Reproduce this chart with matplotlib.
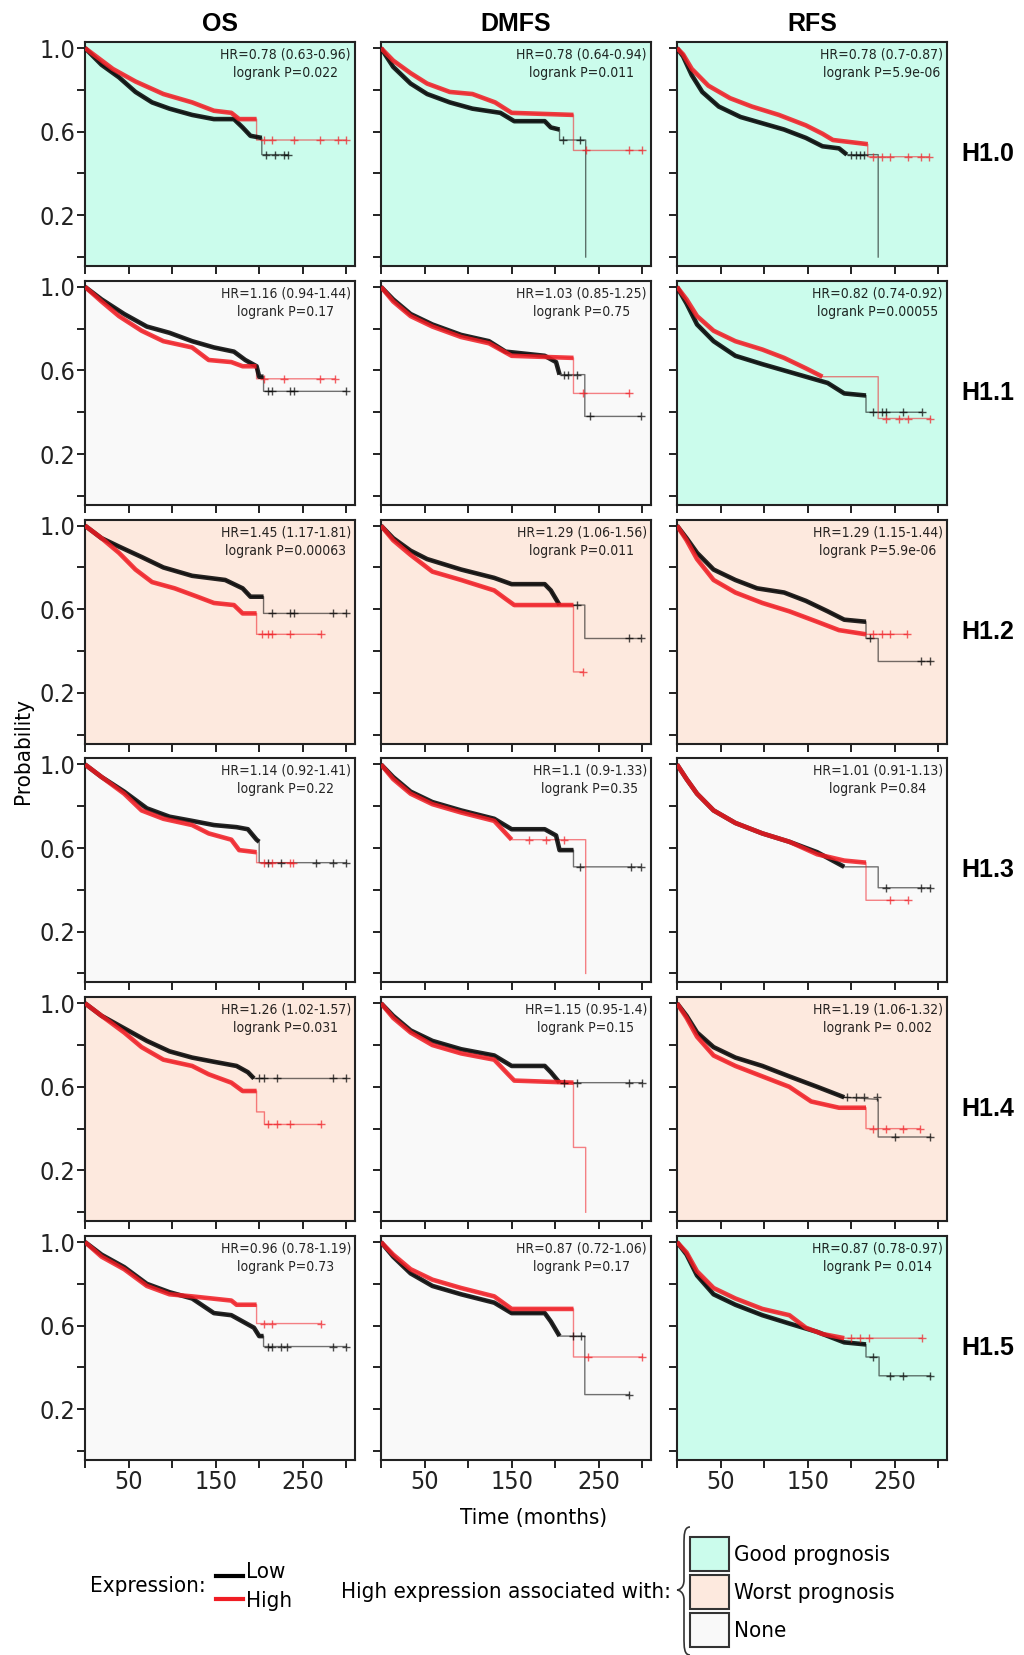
import matplotlib
matplotlib.use("Agg")
import matplotlib.pyplot as plt
from matplotlib.patches import Rectangle, PathPatch
from matplotlib.path import Path

NARROW = dict(family="DejaVu Sans", fontstretch="condensed")
BOLD = dict(family=["Liberation Sans", "DejaVu Sans"], weight="bold")

# ---- data: (months, probability) knots ----
h10_os_low = [(0, 1.0), (19, 0.92), (39, 0.86), (58, 0.79), (77, 0.74), (97, 0.71), (123, 0.68), (148, 0.66),
              (171, 0.66), (181, 0.62), (190, 0.58), (203, 0.57), (203, 0.49), (233, 0.49)]
h10_os_high = [(0, 1.0), (32, 0.90), (58, 0.84), (90, 0.78), (123, 0.74), (148, 0.70), (168, 0.69), (177, 0.66),
               (197, 0.66), (197, 0.56), (300, 0.56)]
h10_dmfs_low = [(0, 1.0), (14, 0.91), (34, 0.83), (53, 0.78), (79, 0.74), (105, 0.71), (137, 0.69), (153, 0.65),
                (188, 0.65), (195, 0.62), (205, 0.61), (205, 0.56), (235, 0.56), (235, 0.0)]
h10_dmfs_high = [(0, 1.0), (14, 0.94), (34, 0.88), (53, 0.83), (79, 0.79), (105, 0.78), (131, 0.74), (150, 0.69),
                 (221, 0.68), (221, 0.51), (300, 0.51)]
h10_rfs_low = [(0, 1.0), (7, 0.96), (17, 0.87), (29, 0.79), (48, 0.72), (73, 0.67), (98, 0.64), (123, 0.61),
               (148, 0.57), (167, 0.53), (186, 0.52), (195, 0.49), (231, 0.49), (231, 0.0)]
h10_rfs_high = [(0, 1.0), (7, 0.97), (17, 0.90), (36, 0.82), (61, 0.76), (86, 0.72), (117, 0.68), (148, 0.63),
                (167, 0.59), (179, 0.56), (219, 0.54), (219, 0.48), (289, 0.48)]

h11_os_low = [(0, 1.0), (19, 0.94), (45, 0.87), (71, 0.81), (97, 0.78), (123, 0.74), (148, 0.71), (171, 0.69),
              (184, 0.65), (197, 0.62), (200, 0.57), (205, 0.57), (205, 0.50), (300, 0.50)]
h11_os_high = [(0, 1.0), (19, 0.93), (39, 0.86), (65, 0.79), (90, 0.74), (123, 0.71), (142, 0.65), (168, 0.64),
               (181, 0.62), (197, 0.62), (197, 0.56), (287, 0.56)]
h11_dmfs_low = [(0, 1.0), (14, 0.94), (34, 0.87), (59, 0.82), (92, 0.77), (124, 0.74), (143, 0.69), (188, 0.67),
                (201, 0.64), (205, 0.58), (234, 0.58), (234, 0.38), (298, 0.38)]
h11_dmfs_high = [(0, 1.0), (14, 0.93), (34, 0.86), (59, 0.81), (92, 0.76), (124, 0.73), (150, 0.67), (221, 0.66),
                 (221, 0.49), (285, 0.49)]
h11_rfs_low = [(0, 1.0), (11, 0.92), (23, 0.82), (42, 0.74), (67, 0.67), (98, 0.63), (123, 0.60), (148, 0.57),
               (173, 0.54), (192, 0.49), (217, 0.48), (217, 0.40), (281, 0.40)]
h11_rfs_high = [(0, 1.0), (11, 0.94), (23, 0.86), (42, 0.79), (67, 0.74), (98, 0.70), (123, 0.66), (148, 0.61),
                (167, 0.57), (231, 0.57), (231, 0.37), (291, 0.37)]

h12_os_low = [(0, 1.0), (19, 0.94), (39, 0.90), (65, 0.85), (90, 0.80), (123, 0.76), (161, 0.74), (181, 0.70),
              (190, 0.66), (205, 0.66), (205, 0.58), (300, 0.58)]
h12_os_high = [(0, 1.0), (19, 0.94), (39, 0.87), (58, 0.79), (77, 0.73), (103, 0.70), (129, 0.66), (148, 0.63),
               (171, 0.62), (181, 0.58), (197, 0.58), (197, 0.48), (271, 0.48)]
h12_dmfs_low = [(0, 1.0), (14, 0.94), (34, 0.88), (53, 0.84), (92, 0.79), (130, 0.75), (150, 0.72), (188, 0.72),
                (195, 0.69), (205, 0.62), (234, 0.62), (234, 0.46), (298, 0.46)]
h12_dmfs_high = [(0, 1.0), (14, 0.93), (34, 0.86), (59, 0.78), (92, 0.74), (130, 0.69), (143, 0.65), (153, 0.62),
                 (221, 0.62), (221, 0.30), (232, 0.30)]
h12_rfs_low = [(0, 1.0), (11, 0.94), (23, 0.87), (42, 0.79), (67, 0.74), (92, 0.70), (123, 0.68), (148, 0.64),
               (173, 0.59), (192, 0.55), (217, 0.54), (217, 0.46), (231, 0.46), (231, 0.35), (291, 0.35)]
h12_rfs_high = [(0, 1.0), (11, 0.93), (23, 0.84), (42, 0.74), (67, 0.68), (98, 0.63), (129, 0.59), (161, 0.54),
                (186, 0.50), (217, 0.48), (264, 0.48)]

h13_os_low = [(0, 1.0), (19, 0.94), (45, 0.87), (71, 0.79), (97, 0.75), (123, 0.73), (148, 0.71), (174, 0.70),
              (187, 0.69), (197, 0.64), (200, 0.63), (200, 0.53), (300, 0.53)]
h13_os_high = [(0, 1.0), (19, 0.94), (45, 0.86), (65, 0.78), (90, 0.74), (123, 0.71), (142, 0.67), (168, 0.64),
               (177, 0.59), (197, 0.58), (197, 0.53), (239, 0.53)]
h13_dmfs_low = [(0, 1.0), (14, 0.94), (34, 0.87), (59, 0.82), (92, 0.78), (130, 0.74), (150, 0.69), (188, 0.69),
                (201, 0.66), (205, 0.59), (221, 0.59), (221, 0.51), (298, 0.51)]
h13_dmfs_high = [(0, 1.0), (14, 0.93), (34, 0.86), (59, 0.81), (92, 0.77), (130, 0.73), (150, 0.64), (235, 0.64),
                 (235, 0.0)]
h13_rfs_low = [(0, 1.0), (11, 0.93), (23, 0.86), (42, 0.78), (67, 0.72), (98, 0.67), (129, 0.63), (161, 0.58),
               (192, 0.51), (231, 0.51), (231, 0.41), (291, 0.41)]
h13_rfs_high = [(0, 1.0), (11, 0.93), (23, 0.86), (42, 0.78), (67, 0.72), (98, 0.67), (129, 0.63), (161, 0.57),
                (192, 0.54), (217, 0.53), (217, 0.35), (265, 0.35)]

h14_os_low = [(0, 1.0), (19, 0.94), (45, 0.88), (71, 0.82), (97, 0.77), (123, 0.74), (148, 0.72), (174, 0.70),
              (187, 0.67), (194, 0.64), (300, 0.64)]
h14_os_high = [(0, 1.0), (19, 0.94), (45, 0.86), (65, 0.79), (90, 0.73), (123, 0.70), (142, 0.66), (168, 0.62),
               (181, 0.58), (197, 0.58), (197, 0.48), (206, 0.48), (206, 0.42), (271, 0.42)]
h14_dmfs_low = [(0, 1.0), (14, 0.94), (34, 0.87), (59, 0.82), (92, 0.78), (130, 0.75), (150, 0.70), (188, 0.70),
                (195, 0.67), (205, 0.62), (300, 0.62)]
h14_dmfs_high = [(0, 1.0), (14, 0.93), (34, 0.86), (59, 0.80), (92, 0.76), (130, 0.73), (146, 0.66), (153, 0.63),
                 (221, 0.62), (221, 0.31), (235, 0.31), (235, 0.0)]
h14_rfs_low = [(0, 1.0), (11, 0.94), (23, 0.86), (42, 0.79), (67, 0.74), (98, 0.70), (129, 0.65), (161, 0.60),
               (192, 0.55), (231, 0.54), (231, 0.36), (291, 0.36)]
h14_rfs_high = [(0, 1.0), (11, 0.93), (23, 0.84), (42, 0.75), (67, 0.70), (98, 0.65), (129, 0.60), (154, 0.53),
                (186, 0.50), (217, 0.50), (217, 0.40), (279, 0.40)]

h15_os_low = [(0, 1.0), (19, 0.94), (45, 0.88), (71, 0.80), (97, 0.76), (123, 0.73), (148, 0.66), (168, 0.65),
              (181, 0.62), (194, 0.59), (200, 0.55), (205, 0.55), (205, 0.50), (300, 0.50)]
h15_os_high = [(0, 1.0), (19, 0.93), (45, 0.87), (71, 0.79), (97, 0.75), (123, 0.74), (168, 0.72), (174, 0.70),
               (197, 0.70), (197, 0.61), (271, 0.61)]
h15_dmfs_low = [(0, 1.0), (14, 0.93), (34, 0.85), (59, 0.79), (92, 0.75), (130, 0.71), (150, 0.66), (188, 0.66),
                (195, 0.62), (205, 0.55), (234, 0.55), (234, 0.27), (285, 0.27)]
h15_dmfs_high = [(0, 1.0), (14, 0.94), (34, 0.87), (59, 0.82), (92, 0.78), (130, 0.74), (150, 0.68), (221, 0.68),
                 (221, 0.45), (300, 0.45)]
h15_rfs_low = [(0, 1.0), (11, 0.94), (23, 0.84), (42, 0.75), (67, 0.70), (98, 0.65), (129, 0.61), (161, 0.57),
               (192, 0.52), (217, 0.51), (217, 0.45), (232, 0.45), (232, 0.36), (291, 0.36)]
h15_rfs_high = [(0, 1.0), (11, 0.95), (23, 0.86), (42, 0.78), (67, 0.73), (98, 0.68), (129, 0.65), (148, 0.59),
                (167, 0.56), (192, 0.54), (281, 0.54)]

# censored times on the sparse tails (months)
censor_low = [
    [[208, 218, 228, 233], [209, 229], [200, 205, 210, 215]],
    [[210, 215, 235, 240, 300], [210, 215, 225, 240, 298], [225, 235, 240, 260, 281]],
    [[215, 235, 240, 285, 300], [225, 285, 298], [222, 280, 291]],
    [[210, 225, 265, 285, 300], [229, 287, 298], [240, 280, 291]],
    [[200, 205, 220, 285, 300], [210, 225, 285, 300], [195, 205, 215, 230, 250, 291]],
    [[210, 215, 225, 232, 285, 300], [220, 230, 285], [225, 245, 260, 291]],
]
censor_high = [
    [[205, 215, 240, 270, 290, 300], [235, 285, 300], [225, 235, 245, 265, 280, 289]],
    [[205, 228, 270, 287], [232, 285], [240, 255, 265, 291]],
    [[203, 210, 215, 235, 271], [232], [225, 235, 245, 264]],
    [[205, 215, 235, 239], [170, 190, 210], [245, 265]],
    [[210, 220, 235, 271], [], [225, 240, 260, 279]],
    [[205, 215, 271], [238, 300], [200, 210, 220, 281]],
]

rows = ["H1.0", "H1.1", "H1.2", "H1.3", "H1.4", "H1.5"]
cols = ["OS", "DMFS", "RFS"]
low_curves = [
    [h10_os_low, h10_dmfs_low, h10_rfs_low],
    [h11_os_low, h11_dmfs_low, h11_rfs_low],
    [h12_os_low, h12_dmfs_low, h12_rfs_low],
    [h13_os_low, h13_dmfs_low, h13_rfs_low],
    [h14_os_low, h14_dmfs_low, h14_rfs_low],
    [h15_os_low, h15_dmfs_low, h15_rfs_low],
]
high_curves = [
    [h10_os_high, h10_dmfs_high, h10_rfs_high],
    [h11_os_high, h11_dmfs_high, h11_rfs_high],
    [h12_os_high, h12_dmfs_high, h12_rfs_high],
    [h13_os_high, h13_dmfs_high, h13_rfs_high],
    [h14_os_high, h14_dmfs_high, h14_rfs_high],
    [h15_os_high, h15_dmfs_high, h15_rfs_high],
]
hr_text = [
    ["HR=0.78 (0.63-0.96)", "HR=0.78 (0.64-0.94)", "HR=0.78 (0.7-0.87)"],
    ["HR=1.16 (0.94-1.44)", "HR=1.03 (0.85-1.25)", "HR=0.82 (0.74-0.92)"],
    ["HR=1.45 (1.17-1.81)", "HR=1.29 (1.06-1.56)", "HR=1.29 (1.15-1.44)"],
    ["HR=1.14 (0.92-1.41)", "HR=1.1 (0.9-1.33)", "HR=1.01 (0.91-1.13)"],
    ["HR=1.26 (1.02-1.57)", "HR=1.15 (0.95-1.4)", "HR=1.19 (1.06-1.32)"],
    ["HR=0.96 (0.78-1.19)", "HR=0.87 (0.72-1.06)", "HR=0.87 (0.78-0.97)"],
]
p_text = [
    ["logrank P=0.022", "logrank P=0.011", "logrank P=5.9e-06"],
    ["logrank P=0.17", "logrank P=0.75", "logrank P=0.00055"],
    ["logrank P=0.00063", "logrank P=0.011", "logrank P=5.9e-06"],
    ["logrank P=0.22", "logrank P=0.35", "logrank P=0.84"],
    ["logrank P=0.031", "logrank P=0.15", "logrank P= 0.002"],
    ["logrank P=0.73", "logrank P=0.17", "logrank P= 0.014"],
]
prognosis = [
    ["good", "good", "good"],
    ["none", "none", "good"],
    ["worst", "worst", "worst"],
    ["none", "none", "none"],
    ["worst", "none", "worst"],
    ["none", "none", "good"],
]
bg_colors = {"good": "#cbfcec", "worst": "#fde9de", "none": "#f9f9f9"}
legend_labels = ["Good prognosis", "Worst prognosis", "None"]
legend_keys = ["good", "worst", "none"]

W, H = 1024, 1655
col_left = [85, 381, 677]
panel_w, panel_h = 270, 224
row_top0, row_step = 42, 238.8

fig = plt.figure(figsize=(W / 100, H / 100), dpi=100)


def px_axes(x, y, w, h):
    return fig.add_axes([x / W, 1 - (y + h) / H, w / W, h / H])


def level_at(curve, t):
    s = curve[0][1]
    for tt, ss in curve:
        if tt <= t:
            s = ss
    return s


def dense_part(curve):
    out = [curve[0]]
    for i in range(1, len(curve)):
        if curve[i][0] == curve[i - 1][0] or curve[i][0] > 225:
            break
        out.append(curve[i])
    return out


def draw_curve(ax, curve, censors, color):
    t = [p[0] for p in curve]
    s = [p[1] for p in curve]
    ax.plot(t, s, color=color, lw=1.0, alpha=0.55, zorder=3)
    d = dense_part(curve)
    ax.plot([p[0] for p in d], [p[1] for p in d], color=color, lw=3.3, alpha=0.85,
            solid_capstyle="butt", zorder=4)
    ax.plot(censors, [level_at(curve, c) for c in censors], ls="none", marker="+",
            ms=6, mew=1.0, color=color, alpha=0.7, zorder=5)


for r in range(len(rows)):
    top = row_top0 + r * row_step
    for c in range(len(cols)):
        ax = px_axes(col_left[c], top, panel_w, panel_h)
        ax.set_facecolor(bg_colors[prognosis[r][c]])
        draw_curve(ax, low_curves[r][c], censor_low[r][c], "black")
        draw_curve(ax, high_curves[r][c], censor_high[r][c], "#f01d24")
        ax.set_xlim(0, 310)
        ax.set_ylim(-0.043, 1.029)
        ax.set_yticks([0, 0.2, 0.4, 0.6, 0.8, 1.0])
        ax.set_xticks([0, 50, 100, 150, 200, 250, 300])
        if c == 0:
            ax.set_yticklabels(["", "0.2", "", "0.6", "", "1.0"], fontsize=18, **NARROW)
        else:
            ax.set_yticklabels([])
        if r == len(rows) - 1:
            ax.set_xticklabels(["", "50", "", "150", "", "250", ""], fontsize=18, **NARROW)
        else:
            ax.set_xticklabels([])
        ax.tick_params(direction="out", length=6, width=1.4, pad=1, colors="#222222")
        for sp in ax.spines.values():
            sp.set_linewidth(1.5)
            sp.set_color("#222222")
        ax.text(0.985, 0.975, hr_text[r][c] + "\n" + p_text[r][c], transform=ax.transAxes,
                ha="right", va="top", multialignment="center", fontsize=10,
                color="black", alpha=0.85, linespacing=1.4, **NARROW)
        if r == 0:
            fig.text((col_left[c] + panel_w / 2) / W, 1 - 24 / H, cols[c], ha="center", va="center",
                     fontsize=18, **BOLD)
    fig.text(961 / W, 1 - (top + panel_h / 2) / H, rows[r], ha="left", va="center",
             fontsize=18, **BOLD)

fig.text(23 / W, 1 - 751 / H, "Probability", rotation=90, ha="center", va="center",
         fontsize=16, **NARROW)
fig.text(534 / W, 1 - 1518 / H, "Time (months)", ha="center", va="center",
         fontsize=16, **NARROW)

# legend: expression lines
fig.text(90 / W, 1 - 1586 / H, "Expression:", ha="left", va="center", fontsize=16, **NARROW)
fig.add_artist(plt.Line2D([216 / W, 243 / W], [1 - 1576 / H, 1 - 1576 / H], color="black", lw=3))
fig.add_artist(plt.Line2D([216 / W, 243 / W], [1 - 1599 / H, 1 - 1599 / H], color="#f01d24", lw=3))
fig.text(246 / W, 1 - 1572 / H, "Low", ha="left", va="center", fontsize=16, **NARROW)
fig.text(246 / W, 1 - 1601 / H, "High", ha="left", va="center", fontsize=16, **NARROW)

fig.text(341 / W, 1 - 1592 / H, "High expression associated with:", ha="left", va="center",
         fontsize=16, **NARROW)

# curly brace
xr, xm, xl = 690, 684, 677
top_b, mid_b, bot_b = 1527, 1590, 1655
verts = [(xr, top_b), (xm, top_b), (xm, top_b + 8), (xm, top_b + 18),
         (xm, mid_b - 10),
         (xm, mid_b - 2), (xl + 2, mid_b), (xl, mid_b),
         (xl + 2, mid_b), (xm, mid_b + 2), (xm, mid_b + 10),
         (xm, bot_b - 18),
         (xm, bot_b - 8), (xm, bot_b), (xr, bot_b)]
codes = [Path.MOVETO, Path.CURVE4, Path.CURVE4, Path.CURVE4,
         Path.LINETO,
         Path.CURVE4, Path.CURVE4, Path.CURVE4,
         Path.CURVE4, Path.CURVE4, Path.CURVE4,
         Path.LINETO,
         Path.CURVE4, Path.CURVE4, Path.CURVE4]
verts = [(x / W, 1 - y / H) for x, y in verts]
fig.add_artist(PathPatch(Path(verts, codes), transform=fig.transFigure, fill=False,
                         lw=1.2, edgecolor="#333333"))

box_tops = [1537, 1575, 1613]
for key, lab, bt in zip(legend_keys, legend_labels, box_tops):
    fig.add_artist(Rectangle((690 / W, 1 - (bt + 34) / H), 39 / W, 34 / H, transform=fig.transFigure,
                             facecolor=bg_colors[key], edgecolor="#333333", lw=1.5))
    fig.text(734 / W, 1 - (bt + 18) / H, lab, ha="left", va="center", fontsize=16, **NARROW)

fig.savefig("out.png", dpi=100, facecolor="white")
